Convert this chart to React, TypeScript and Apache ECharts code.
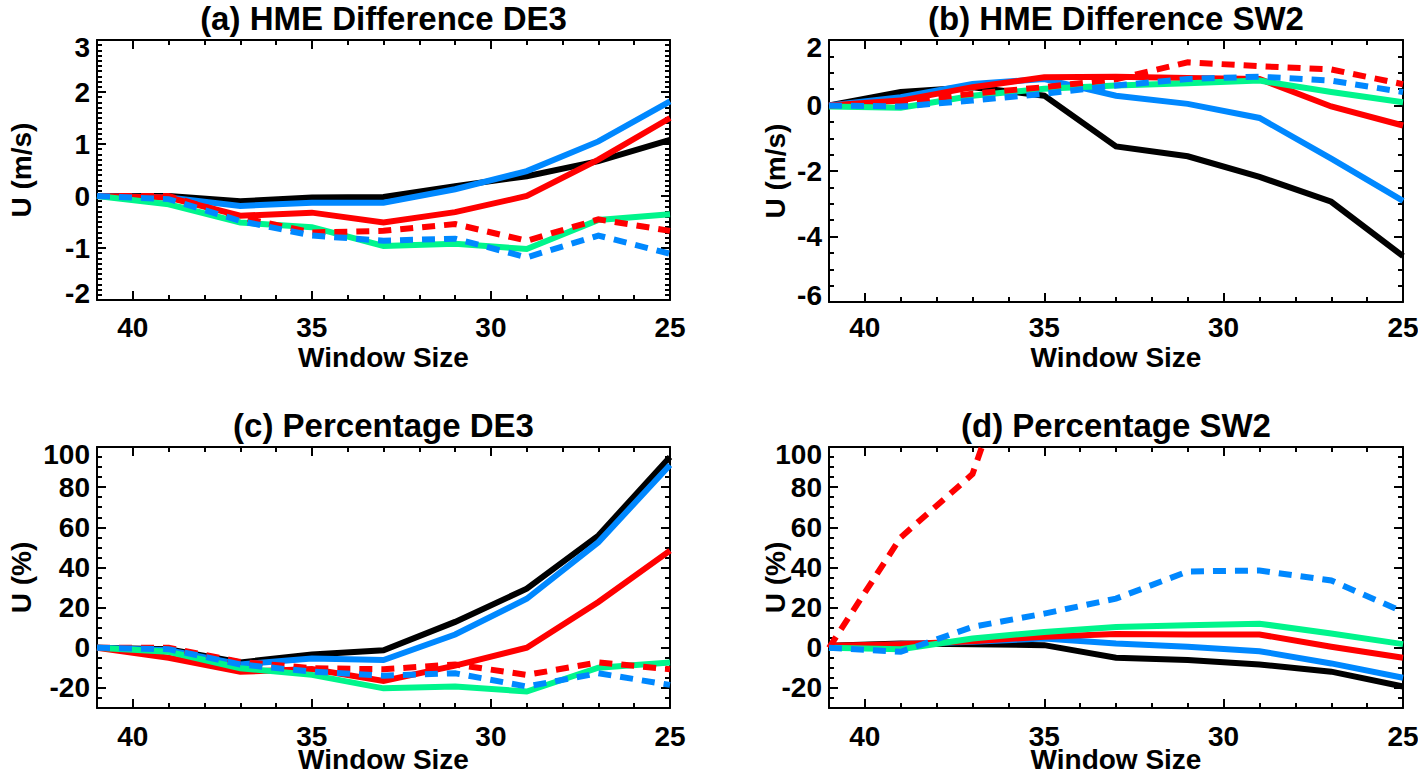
import React, { useEffect, useRef } from 'react';
import * as echarts from 'echarts';

// ---------- data ----------
const windowSizes = [41, 39, 37, 35, 33, 31, 29, 27, 25];

// (a) HME Difference DE3 (m/s)
const aBlack = [0, 0, -0.1, -0.03, -0.02, 0.19, 0.38, 0.67, 1.08];
const aBlue = [0, -0.03, -0.19, -0.13, -0.13, 0.13, 0.48, 1.05, 1.82];
const aRed = [0, -0.03, -0.38, -0.32, -0.51, -0.31, 0.0, 0.7, 1.5];
const aGreen = [0, -0.16, -0.51, -0.6, -0.96, -0.92, -1.02, -0.46, -0.35];
const aRedDash = [0, 0, -0.41, -0.7, -0.67, -0.54, -0.86, -0.45, -0.67];
const aBlueDash = [0, -0.06, -0.48, -0.76, -0.86, -0.82, -1.18, -0.76, -1.11];

// (b) HME Difference SW2 (m/s)
const bBlack = [0, 0.41, 0.56, 0.3, -1.25, -1.55, -2.18, -2.94, -4.6];
const bBlue = [0, 0.25, 0.66, 0.81, 0.3, 0.05, -0.38, -1.62, -2.91];
const bRed = [0, 0.15, 0.56, 0.86, 0.88, 0.84, 0.81, -0.03, -0.61];
const bGreen = [-0.03, -0.07, 0.3, 0.51, 0.61, 0.68, 0.76, 0.41, 0.1];
const bRedDash = [0, 0.1, 0.36, 0.56, 0.8, 1.32, 1.2, 1.1, 0.65];
const bBlueDash = [0, -0.03, 0.15, 0.36, 0.61, 0.81, 0.88, 0.76, 0.41];

// (c) Percentage DE3 (%)
const cBlack = [0, -0.7, -7.3, -3.3, -1.2, 12.9, 29.4, 55.9, 95];
const cBlue = [0, -1.2, -8.3, -5.3, -6.1, 6.6, 24.4, 52.6, 91];
const cRed = [0, -5, -12, -10.6, -16.5, -8.9, 0, 22.8, 48.4];
const cGreen = [0, -2, -10.2, -13.5, -20.2, -19.3, -21.8, -9.9, -7.3];
const cRedDash = [0, 0, -7, -10.2, -10.7, -8.3, -13.5, -7.3, -10.7];
const cBlueDash = [0, -0.7, -8.3, -11.9, -13.9, -12.7, -19.3, -12.7, -18.5];

// (d) Percentage SW2 (%)
const dBlack = [1, 2.1, 1.7, 1.3, -5, -6.1, -8.3, -11.9, -19.3];
const dBlue = [0, 1.8, 3, 4.6, 2.1, 0.5, -1.7, -7.8, -14.9];
const dRed = [1, 1.8, 3.3, 5.5, 6.8, 6.6, 6.6, 0.5, -5];
const dGreen = [0, -0.7, 4.6, 7.9, 10.4, 11.2, 12, 7.1, 1.8];
const dRedDash = [0, 55, 86.5, 190, null, null, null, null, null];
const dBlueDash = [0, -2, 10.4, 17, 24.5, 38, 38.5, 33.5, 17.9];

// tick values
const xMajorTicks = [25, 30, 35, 40];
const xMinorTicks = [26, 27, 28, 29, 31, 32, 33, 34, 36, 37, 38, 39];
const aYTicks = [-2, -1, 0, 1, 2, 3];
const bYTicks = [-6, -4, -2, 0, 2];
const cdYTicks = [-20, 0, 20, 40, 60, 80, 100];

const titles = ['(a) HME Difference DE3', '(b) HME Difference SW2', '(c) Percentage DE3', '(d) Percentage SW2'];

// ---------- styling ----------
const FONT = 'Liberation Sans, Arial, Helvetica, sans-serif';
const BLACK = '#000000';
const BLUE = '#0088ff';
const RED = '#ff0000';
const GREEN = '#00f58c';
const LW = 6;
const DASH = [13, 9];

const range = (a: number, b: number, step: number) => {
  const out: number[] = [];
  const n = Math.round((b - a) / step);
  for (let i = 0; i <= n; i++) out.push(Math.round((a + i * step) * 1000) / 1000);
  return out;
};

type Panel = {
  left: number; top: number; width: number; height: number;
  yMin: number; yMax: number; yTicks: number[]; yMinor: number[];
  yName: string; yNameGap: number; xLabelMargin: number; xNameGap: number; titleY: number;
  alignMin: boolean; alignMax: boolean;
  title: string; vals: (number | null)[][];
};

const panels: Panel[] = [
  { left: 97, top: 40, width: 573, height: 260, yMin: -2, yMax: 3, yTicks: aYTicks, yMinor: range(-2, 3, 0.1),
    yName: 'U (m/s)', yNameGap: 62, xLabelMargin: 17, xNameGap: 46, titleY: 18, alignMin: true, alignMax: true, title: titles[0],
    vals: [aBlack, aBlue, aRed, aGreen, aRedDash, aBlueDash] },
  { left: 829, top: 40, width: 574, height: 262, yMin: -6, yMax: 2, yTicks: bYTicks, yMinor: range(-6, 2, 0.5),
    yName: 'U (m/s)', yNameGap: 40, xLabelMargin: 15, xNameGap: 44, titleY: 18, alignMin: true, alignMax: true, title: titles[1],
    vals: [bBlack, bBlue, bRed, bGreen, bRedDash, bBlueDash] },
  { left: 97, top: 447, width: 573, height: 261, yMin: -30, yMax: 100, yTicks: cdYTicks, yMinor: range(-30, 100, 5),
    yName: 'U (%)', yNameGap: 62, xLabelMargin: 18, xNameGap: 40, titleY: 425, alignMin: false, alignMax: true, title: titles[2],
    vals: [cBlack, cBlue, cRed, cGreen, cRedDash, cBlueDash] },
  { left: 829, top: 447, width: 574, height: 261, yMin: -30, yMax: 100, yTicks: cdYTicks, yMinor: range(-30, 100, 5),
    yName: 'U (%)', yNameGap: 40, xLabelMargin: 18, xNameGap: 40, titleY: 425, alignMin: false, alignMax: true, title: titles[3],
    vals: [dBlack, dBlue, dRed, dGreen, dRedDash, dBlueDash] },
];

const seriesStyles = [
  { color: BLACK, type: 'solid' as any },
  { color: BLUE, type: 'solid' as any },
  { color: RED, type: 'solid' as any },
  { color: GREEN, type: 'solid' as any },
  { color: RED, type: DASH as any },
  { color: BLUE, type: DASH as any },
];

const textStyle = { fontFamily: FONT, fontWeight: 'bold' as const, color: '#000', fontSize: 28 };

function buildOption() {
  const grid: any[] = [];
  const xAxis: any[] = [];
  const yAxis: any[] = [];
  const series: any[] = [];
  const graphic: any[] = [];

  panels.forEach((p, gi) => {
    grid.push({ left: p.left, top: p.top, width: p.width, height: p.height, outerBoundsMode: 'none', containLabel: false });

    const axisLine = { show: true, onZero: false, lineStyle: { color: '#000', width: 2 } };
    const noLine = { show: false, onZero: false };
    const tickLine = { color: '#000', width: 2 };
    const xBase = { type: 'value', gridIndex: gi, min: 25, max: 41, inverse: true, splitLine: { show: false } };
    xAxis.push({
      ...xBase, position: 'bottom', axisLine,
      axisTick: { show: true, inside: true, length: 9, customValues: xMajorTicks, lineStyle: tickLine },
      axisLabel: { show: true, customValues: xMajorTicks, margin: p.xLabelMargin, ...textStyle, lineHeight: 20 },
      name: 'Window Size', nameLocation: 'middle', nameGap: p.xNameGap, nameMoveOverlap: false,
      nameTextStyle: { ...textStyle, lineHeight: 22 },
    });
    xAxis.push({
      ...xBase, position: 'bottom', axisLine: noLine,
      axisTick: { show: true, inside: true, length: 5, customValues: xMinorTicks, lineStyle: tickLine },
      axisLabel: { show: false },
    });
    xAxis.push({
      ...xBase, position: 'top', axisLine,
      axisTick: { show: true, inside: true, length: 9, customValues: xMajorTicks, lineStyle: tickLine },
      axisLabel: { show: false },
    });
    xAxis.push({
      ...xBase, position: 'top', axisLine: noLine,
      axisTick: { show: true, inside: true, length: 5, customValues: xMinorTicks, lineStyle: tickLine },
      axisLabel: { show: false },
    });

    const yBase = { type: 'value', gridIndex: gi, min: p.yMin, max: p.yMax, splitLine: { show: false } };
    const ylab: any = { show: true, customValues: p.yTicks, margin: 7, ...textStyle, lineHeight: 14 };
    if (p.alignMin) ylab.verticalAlignMinLabel = 'bottom';
    if (p.alignMax) ylab.verticalAlignMaxLabel = 'top';
    yAxis.push({
      ...yBase, position: 'left', axisLine,
      axisTick: { show: true, inside: true, length: 9, customValues: p.yTicks, lineStyle: tickLine },
      axisLabel: ylab,
      name: p.yName, nameLocation: 'middle', nameGap: p.yNameGap, nameMoveOverlap: false,
      nameTextStyle: { ...textStyle },
    });
    yAxis.push({
      ...yBase, position: 'left', axisLine: noLine,
      axisTick: { show: true, inside: true, length: 5, customValues: p.yMinor, lineStyle: tickLine },
      axisLabel: { show: false },
    });
    yAxis.push({
      ...yBase, position: 'right', axisLine,
      axisTick: { show: true, inside: true, length: 9, customValues: p.yTicks, lineStyle: tickLine },
      axisLabel: { show: false },
    });
    yAxis.push({
      ...yBase, position: 'right', axisLine: noLine,
      axisTick: { show: true, inside: true, length: 5, customValues: p.yMinor, lineStyle: tickLine },
      axisLabel: { show: false },
    });

    p.vals.forEach((vals, si) => {
      const st = seriesStyles[si];
      series.push({
        type: 'line',
        xAxisIndex: gi * 4,
        yAxisIndex: gi * 4,
        data: windowSizes.map((x, i) => [x, vals[i]]),
        showSymbol: false,
        symbol: 'none',
        clip: true,
        connectNulls: false,
        silent: true,
        z: 2 + si,
        lineStyle: { color: st.color, width: LW, type: st.type, cap: 'butt', join: 'miter' },
        itemStyle: { color: st.color },
      });
    });

    graphic.push({
      type: 'text',
      x: p.left + p.width / 2,
      y: p.titleY,
      style: {
        text: p.title,
        font: `bold 33px ${FONT}`,
        fill: '#000',
        align: 'center',
        verticalAlign: 'middle',
        textAlign: 'center',
        textVerticalAlign: 'middle',
      },
    });
  });

  return { animation: false, backgroundColor: '#ffffff', grid, xAxis, yAxis, series, graphic };
}

export default function App() {
  const ref = useRef<HTMLDivElement>(null);
  useEffect(() => {
    if (!ref.current) return;
    const chart = echarts.init(ref.current, undefined, { renderer: 'svg' });
    chart.setOption(buildOption() as any);
    return () => chart.dispose();
  }, []);
  return (
    <div
      ref={ref}
      style={{ position: 'fixed', left: 0, top: 0, width: 1418, height: 773, background: '#fff' }}
    />
  );
}
